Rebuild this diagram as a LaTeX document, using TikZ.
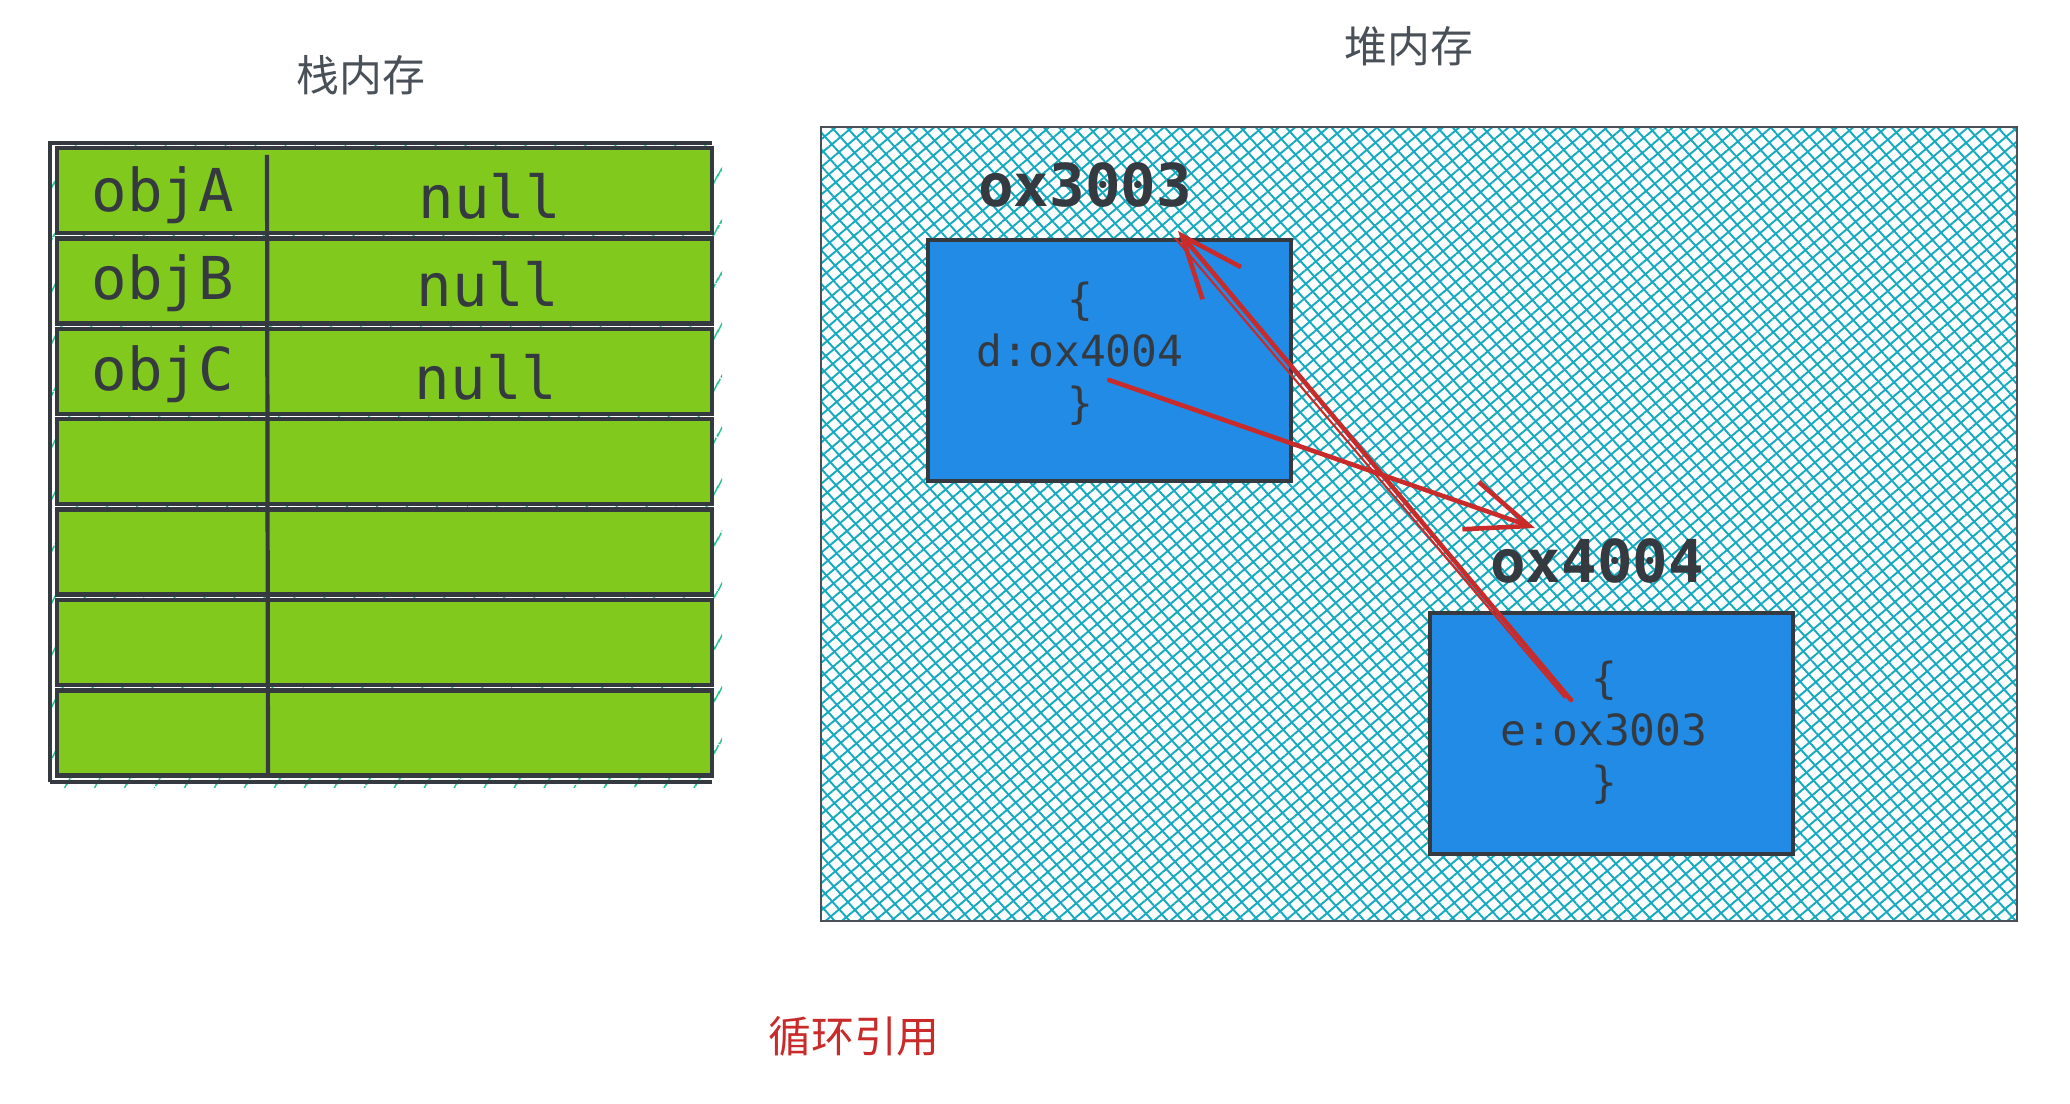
\documentclass[tikz,border=0pt]{standalone}
\usepackage{fontspec}
\setmonofont{DejaVu Sans Mono}
\newfontfamily\cjk{Noto Sans CJK SC}
\usetikzlibrary{arrows.meta,patterns.meta}
\definecolor{ink}{HTML}{343A40}
\definecolor{lbl}{HTML}{495057}
\definecolor{leaf}{HTML}{82C91E}
\definecolor{sea}{HTML}{228BE6}
\definecolor{hatch}{HTML}{15AABF}
\definecolor{tick}{HTML}{12B886}
\definecolor{alert}{HTML}{C92A2A}

\begin{document}
\begin{tikzpicture}[x=0.01cm,y=-0.01cm,
  cell/.style={fill=leaf,draw=ink,line width=1.3pt},
  key/.style={font=\ttfamily\fontsize{16.8}{20}\selectfont,text=ink,inner sep=0pt},
  title/.style={font=\cjk\fontsize{12.2}{14}\selectfont,text=lbl,inner sep=0pt},
  addr/.style={font=\ttfamily\bfseries\fontsize{16.8}{20}\selectfont,text=ink,inner sep=0pt},
  body/.style={font=\ttfamily\fontsize{12.2}{14.8}\selectfont,text=ink,align=center,inner sep=0pt},
  obj/.style={draw=ink,fill=sea,line width=1.2pt,minimum width=3.63cm,minimum height=2.41cm,inner sep=0pt},
  link/.style={draw=alert,line width=1.3pt,line cap=round,-{Straight Barb[length=0.62cm,width=0.5cm,line width=1.3pt]}}]
  \useasboundingbox (0,0) rectangle (2070,1104);

  \node[title] (stk) at (361,75) {栈内存};
  \fill[pattern={Lines[angle=60,distance=7.4pt,line width=0.5pt]},pattern color=tick] (50,143) rectangle (722,788);
  \draw[ink,line width=0.9pt] (50,782) -- (50,143) -- (712,143);
  \foreach \k in {0,...,6}
    \draw[cell] (57,{148+90.4*\k}) rectangle (712,{233+90.4*\k});
  \draw[ink,line width=1.2pt] (50,782) -- (712,782);
  \draw[ink,line width=1.2pt] (267,155) -- (268,777);
  \path (163,195) node[key] (ka) {objA} (490,196) node[key] (va) {null}
        (163,283) node[key] (kb) {objB} (488,284) node[key] (vb) {null}
        (163,374) node[key] (kc) {objC} (486,377) node[key] (vc) {null};

  \node[title] (hp) at (1409,46) {堆内存};
  \fill[pattern={Lines[angle=40,distance=3pt,line width=0.55pt]},pattern color=hatch] (821,127) rectangle (2017,921);
  \fill[pattern={Lines[angle=-48,distance=3.2pt,line width=0.55pt]},pattern color=hatch] (821,127) rectangle (2017,921);
  \draw[lbl,line width=0.8pt] (821,127) rectangle (2017,921);

  \node[obj] (oa) at (1109.5,360.5) {};
  \node[obj] (ob) at (1611.5,733.5) {};
  \node[addr] (la) at (1085,185) {ox3003};
  \node[addr] (lb) at (1597,561) {ox4004};
  \node[body] (ta) at (1080,354) {\{\\d:ox4004\\\}};
  \node[body] (tb) at (1604,733) {\{\\e:ox3003\\\}};

  \coordinate (pa) at (1109,380);
  \coordinate (qa) at (1535,528);
  \coordinate (pb) at (1571,700);
  \coordinate (qb) at (1178,231);
  \draw[link] (pa) -- (qa);
  \draw[link] (pb) -- (qb);
  \draw[alert,line width=0.6pt] ([shift={(-6,-2)}]pb) -- ([shift={(-3,7)}]qb);

  \node[font=\cjk\fontsize{12.2}{14}\selectfont,text=alert,inner sep=0pt] (cyc) at (854,1036) {循环引用};
\end{tikzpicture}
\end{document}
